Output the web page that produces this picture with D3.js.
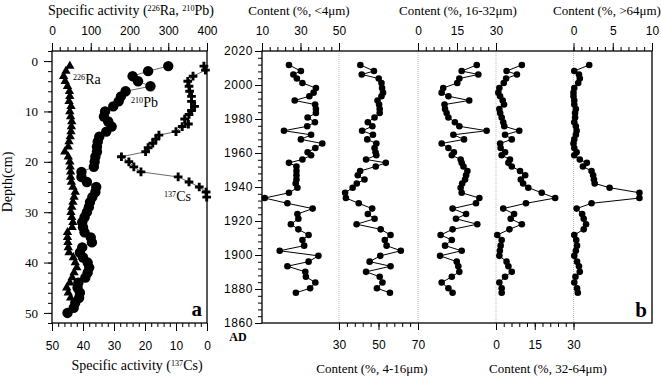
<!DOCTYPE html>
<html>
<head>
<meta charset="utf-8">
<script src="https://cdn.jsdelivr.net/npm/d3@7"></script>
<style>
  body { margin: 0; background: #fff; }
  svg { display: block; }
</style>
</head>
<body>
<div id="chart"></div>
<script>
// =========================
// DATA (panel a: activity vs depth)
// =========================
const raDepth = d3.range(1, 48);
const raValue = [46,36,30,34,40,45,46,44,49,46,48,51,50,49,47,44,42,33,42,46,
                 47,48,48,50,54,60,57,54,51,49,51,54,52,40,40,41,42,44,55,60,
                 64,57,52,46,38,42,48];

const pbDepth = d3.range(1, 51);
const pbValue = [300,248,208,222,254,190,178,172,158,137,134,145,154,140,122,118,116,116,112,110,
                 108,76,76,90,114,112,104,98,95,90,84,78,80,84,100,103,78,72,80,92,
                 96,92,86,68,66,72,70,60,56,40];

const csDepth = [1,1.8,3,4,5,6,7,8,9,9.8,10.6,11.5,12.5,13,14,14.7,15.5,16.3,17.2,18,
                 19,20,21,22,23,24,25,26,27];
const csValue = [1,0.5,4.5,6.2,5.8,5.6,5,5,4,5,5.8,7.2,6,8,10,15.5,16.5,17.5,19,19.8,
                 27.6,25.2,23.6,21.3,9.3,5.8,2.5,0.3,0.1];

// =========================
// DATA (panel b: grain size vs year AD)
// =========================
const years = [2011.8,2008.2,2006.2,2003.8,2001.2,1998.2,1995.5,1993.4,1990.9,1988.5,
               1985.9,1983.5,1980.9,1978.1,1975.7,1973.1,1970.7,1968,1965.6,1962.9,
               1960.4,1958.7,1956.2,1954.2,1952.1,1949.4,1946.9,1944.4,1942.1,1939.6,
               1936.6,1933.5,1930.4,1927.3,1924.1,1921.3,1918.1,1915.1,1911.8,1908.8,
               1905.5,1902.5,1899.5,1896.1,1893.4,1890.1,1887.2,1883.8,1880.4,1877.8];

const clay4 = [24,30.2,26.3,28.1,31,38,36.8,34.6,27,37.6,38,38,33.7,37.5,33.5,21.4,35.5,30.2,41.3,37.7,
               33.7,35.5,31,24,27.9,27.9,27.9,27.9,27.5,28.4,24,11.4,23.2,36.3,28.4,28.9,25,28.9,34.2,31,
               31.9,19.2,39.3,34.2,23.2,32.5,32.8,37.7,35,27.6];
const silt4_16 = [40.8,47.7,41.5,50.1,51.5,51.8,52.3,51.5,49.5,50.3,50.6,50.6,48,44.6,46.9,41.7,47.2,44.3,48.9,48,
                  48.5,48.9,43.7,53.7,48.6,40.7,39.5,42.9,39,36.9,33.1,33.5,40,46.8,44.6,48,38.9,51.1,56.1,53.2,
                  54.1,61.3,50.9,45.5,56.1,43.7,50.6,52,49.2,55.8];
const silt16_32 = [22.6,16.8,23.2,15.9,15.1,9.7,9.1,11.7,19.7,10.2,10.4,11,11.7,14.2,15.9,26.4,13.6,17.7,9.1,11.7,
                   13.8,13,16.4,16.8,17.5,19,18.5,18.1,17,16.4,16.8,23.6,22.3,13.3,18.5,14.6,22.8,13.3,8.7,13,
                   10.4,16.8,8.5,14.9,15.5,15.9,13,9.1,11.7,13.3];
const silt32_64 = [10,4.1,8.1,3.9,3,1.3,0.9,1.6,2.6,3.1,1.3,1.6,2.2,2.8,3.2,9,3.5,6.1,1.6,1.8,
                   3.5,2.2,5.4,4.8,6.1,9.3,11.3,9.6,10.5,12.5,17.7,22.9,11.6,2.8,7,5.7,10,5.2,0.5,2.2,
                   1.8,1.5,1.3,4.1,4.8,6.1,3.5,1.3,2.2,2.2];
const sand64 = [2,0.1,0.7,0.8,0.6,0.1,0,0,0.1,0.1,0.3,0.2,0.2,0.1,0.3,0.4,0.3,0.1,0,0.1,
                0.4,0.1,0.8,1.7,1.2,2.3,2.5,2.6,2.7,4.6,8.4,8.4,2.3,0.4,1.1,1.3,1.6,1.3,0.1,0.35,
                0.45,0.3,0.1,0.45,0.7,0.8,0.25,0.1,0.45,0.55];

// =========================
// SVG SETUP
// =========================
const W = 661, H = 376;
const serif = "'Liberation Serif', 'Times New Roman', serif";
const sans = "'Liberation Sans', Arial, sans-serif";

const svg = d3.select("#chart")
  .append("svg")
  .attr("width", W)
  .attr("height", H);

const yTop = 51, yBot = 323;

// generic axis: minor + major ticks, no domain line
function drawAxis(orient, scale, pos, majors, minors, opt) {
  const make = {top: d3.axisTop, bottom: d3.axisBottom, left: d3.axisLeft}[orient];
  const tr = orient === "left" ? `translate(${pos},0)` : `translate(0,${pos})`;
  const gm = svg.append("g").attr("transform", tr)
    .call(make(scale).tickValues(minors).tickSize(opt.minor || 4).tickFormat(""));
  gm.select(".domain").remove();
  gm.selectAll("line").attr("stroke", "#000");
  const g = svg.append("g").attr("transform", tr)
    .call(make(scale).tickValues(majors).tickSize(opt.major || 8).tickPadding(opt.pad)
      .tickFormat(opt.fmt || (d => d)));
  g.select(".domain").remove();
  g.selectAll("line").attr("stroke", "#000");
  g.selectAll("text")
    .attr("font-family", opt.font)
    .attr("font-size", opt.size)
    .attr("fill", "#000")
    .style("letter-spacing", opt.ls || 0);
  if (!opt.labels) g.selectAll("text").remove();
}

// text with superscripts: parts = [[str, isSup], ...]
function supText(x, y, parts, size, anchor) {
  const t = svg.append("text")
    .attr("x", x).attr("y", y)
    .attr("font-family", serif)
    .attr("font-size", size)
    .attr("text-anchor", anchor || "start")
    .attr("fill", "#000");
  parts.forEach(p => {
    t.append("tspan")
      .attr("font-size", p[1] ? size * 0.58 : size)
      .attr("baseline-shift", p[1] ? "super" : null)
      .text(p[0]);
  });
  return t;
}

// =========================
// PANEL A
// =========================
const aL = 52, aR = 207;
const yDepth = d3.scaleLinear().domain([-2, 52]).range([yTop, yBot]);
const xAct = d3.scaleLinear().domain([0, 400]).range([aL, aR]);
const xCs = d3.scaleLinear().domain([50, 0]).range([aL, aR]);

drawAxis("top", xAct, yTop, d3.range(0, 401, 100), d3.range(0, 401, 20),
  {labels: true, font: sans, size: 12, pad: 8});
drawAxis("bottom", xCs, yBot, d3.range(0, 51, 10), d3.range(0, 51, 2),
  {labels: true, font: sans, size: 12, pad: 10});
drawAxis("left", yDepth, aL, d3.range(0, 51, 10), d3.range(-2, 53, 2),
  {labels: true, font: serif, size: 13, pad: 6});

svg.append("rect")
  .attr("x", aL).attr("y", yTop)
  .attr("width", aR - aL).attr("height", yBot - yTop)
  .attr("fill", "none").attr("stroke", "#000").attr("stroke-width", 1.3);

const lineRa = d3.line().x((d, i) => xAct(raValue[i])).y(d => yDepth(d));
const linePb = d3.line().x((d, i) => xAct(pbValue[i])).y(d => yDepth(d));
const lineCs = d3.line().x((d, i) => xCs(csValue[i])).y(d => yDepth(d));

[[raDepth, lineRa], [pbDepth, linePb], [csDepth, lineCs]].forEach(([d, ln]) => {
  svg.append("path")
    .datum(d)
    .attr("fill", "none")
    .attr("stroke", "#444")
    .attr("stroke-width", 0.8)
    .attr("d", ln);
});

svg.selectAll(".ra")
  .data(raDepth)
  .enter()
  .append("path")
  .attr("transform", (d, i) => `translate(${xAct(raValue[i])},${yDepth(d)})`)
  .attr("d", d3.symbol(d3.symbolTriangle, 38))
  .attr("fill", "#000");

svg.selectAll(".pb")
  .data(pbDepth)
  .enter()
  .append("circle")
  .attr("cx", (d, i) => xAct(pbValue[i]))
  .attr("cy", d => yDepth(d))
  .attr("r", 5.2)
  .attr("fill", "#000");

svg.selectAll(".cs")
  .data(csDepth)
  .enter()
  .append("path")
  .attr("transform", (d, i) => `translate(${xCs(csValue[i])},${yDepth(d)})`)
  .attr("d", d3.symbol(d3.symbolCross, 42))
  .attr("fill", "#000");

// labels
supText(131, 15, [["Specific activity (", 0], ["226", 1], ["Ra, ", 0], ["210", 1], ["Pb)", 0]], 14, "middle");
supText(137, 370, [["Specific activity (", 0], ["137", 1], ["Cs)", 0]], 14, "middle");
supText(73, 84, [["226", 1], ["Ra", 0]], 14);
supText(131, 107, [["210", 1], ["Pb", 0]], 14);
supText(164, 201, [["137", 1], ["Cs", 0]], 14);

svg.append("text")
  .attr("transform", "rotate(-90)")
  .attr("x", -182).attr("y", 12)
  .attr("text-anchor", "middle")
  .attr("font-family", serif).attr("font-size", 14)
  .text("Depth(cm)");

svg.append("text")
  .attr("x", 202).attr("y", 316)
  .attr("text-anchor", "end")
  .attr("font-family", serif).attr("font-size", 21).attr("font-weight", "bold")
  .text("a");

// =========================
// PANEL B
// =========================
const bL = 262, bR = 652;
const yYear = d3.scaleLinear().domain([2020, 1860]).range([yTop, yBot]);

const x1 = d3.scaleLinear().domain([10, 50]).range([bL, 339]);
const x2 = d3.scaleLinear().domain([30, 70]).range([339, 418]);
const x3 = d3.scaleLinear().domain([0, 30]).range([418, 496]);
const x4 = d3.scaleLinear().domain([0, 30]).range([496, 573.5]);
const x5 = d3.scaleLinear().domain([0, 10]).range([573.5, bR]);

drawAxis("left", yYear, bL, d3.range(1860, 2021, 20), d3.range(1860, 2021, 4),
  {labels: true, font: sans, size: 12, pad: 2, major: 7, ls: "0.6px"});

drawAxis("top", x1, yTop, [10, 30, 50], d3.range(10, 51, 4), {labels: true, font: sans, size: 12, pad: 8});
drawAxis("top", x3, yTop, [0, 15, 30], d3.range(0, 31, 3), {labels: true, font: sans, size: 12, pad: 8});
drawAxis("top", x5, yTop, [0, 5, 10], d3.range(0, 11, 1), {labels: true, font: sans, size: 12, pad: 8});
drawAxis("bottom", x2, yBot, [30, 50, 70], d3.range(30, 71, 4), {labels: true, font: sans, size: 12, pad: 10, major: 7});
drawAxis("bottom", x4, yBot, [0, 15, 30], d3.range(0, 31, 3), {labels: true, font: sans, size: 12, pad: 10, major: 7});

// dotted separators
svg.selectAll(".sep")
  .data([x1.range()[1], x2.range()[1], x3.range()[1], x4.range()[1]])
  .enter()
  .append("line")
  .attr("x1", d => d).attr("x2", d => d)
  .attr("y1", yTop).attr("y2", yBot)
  .attr("stroke", "#bbb")
  .attr("stroke-width", 1)
  .attr("stroke-dasharray", "1,1");

svg.append("rect")
  .attr("x", bL).attr("y", yTop)
  .attr("width", bR - bL).attr("height", yBot - yTop)
  .attr("fill", "none").attr("stroke", "#000").attr("stroke-width", 1.3);

const series = [
  [clay4, x1], [silt4_16, x2], [silt16_32, x3], [silt32_64, x4], [sand64, x5]
];

series.forEach(([vals, xs]) => {
  const ln = d3.line().x((d, i) => xs(vals[i])).y(d => yYear(d));
  svg.append("path")
    .datum(years)
    .attr("fill", "none")
    .attr("stroke", "#000")
    .attr("stroke-width", 1)
    .attr("d", ln);
  svg.append("g")
    .selectAll("circle")
    .data(years)
    .enter()
    .append("circle")
    .attr("cx", (d, i) => xs(vals[i]))
    .attr("cy", d => yYear(d))
    .attr("r", 3.3)
    .attr("fill", "#000");
});

// titles
const titles = [
  ["Content (%, <4μm)", 299, 15],
  ["Content (%, 16-32μm)", 458, 15],
  ["Content (%, >64μm)", 607, 15],
  ["Content (%, 4-16μm)", 372, 373],
  ["Content (%, 32-64μm)", 548, 373]
];
svg.selectAll(".ttl")
  .data(titles)
  .enter()
  .append("text")
  .attr("x", d => d[1]).attr("y", d => d[2])
  .attr("text-anchor", "middle")
  .attr("font-family", serif).attr("font-size", 13)
  .text(d => d[0]);

svg.append("text")
  .attr("x", 238).attr("y", 341)
  .attr("text-anchor", "middle")
  .attr("font-family", serif).attr("font-size", 12).attr("font-weight", "bold")
  .text("AD");

svg.append("text")
  .attr("x", 647).attr("y", 317)
  .attr("text-anchor", "end")
  .attr("font-family", serif).attr("font-size", 21).attr("font-weight", "bold")
  .text("b");
</script>
</body>
</html>
